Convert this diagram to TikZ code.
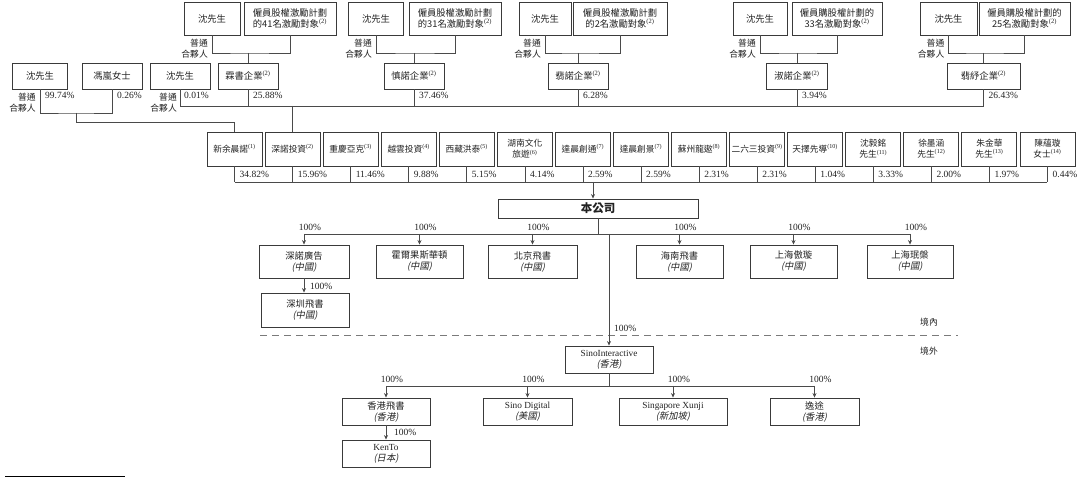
\documentclass[tikz,border=0pt]{standalone}
\usepackage{fontspec}
\setmainfont{Liberation Serif}
\newfontfamily\cjk{Noto Sans CJK TC}
\newfontfamily\cjkit{Noto Sans CJK TC}[FakeSlant=0.2]
\usetikzlibrary{arrows.meta,calc,positioning}
\definecolor{boxc}{HTML}{3A3A3A}
\definecolor{linec}{HTML}{4A4A4A}
\definecolor{txtc}{HTML}{222222}
\definecolor{dashc}{HTML}{7A7A7A}
\newcommand\nt[1]{\textsuperscript{\rmfamily(#1)}}
\newcommand\regn[1]{\\{\cjkit(#1)}}
\tikzset{
  box/.style={draw=boxc,line width=0.9pt,inner sep=1pt,align=center,text=txtc,
    font=\cjk\fontsize{9.3}{11}\selectfont},
  topbox/.style={box,minimum height=33pt},
  entbox/.style={box,minimum height=26pt,minimum width=60pt},
  rowbox/.style={box,minimum height=34pt,minimum width=55pt,font=\cjk\fontsize{8.7}{11}\selectfont},
  subbox/.style={box,minimum height=33pt,minimum width=88pt},
  osbox/.style={box,minimum height=27pt,minimum width=88pt},
  conn/.style={draw=linec,line width=0.6pt},
  arr/.style={conn,-{Stealth[length=4.5pt,width=4pt]}},
  pct/.style={inner sep=0pt,text=txtc,font=\fontsize{9.5}{10}\selectfont},
  gp/.style={inner sep=0pt,align=right,text=txtc,font=\cjk\fontsize{8.8}{11}\selectfont},
  dashline/.style={draw=dashc,line width=1pt,dash pattern=on 7pt off 5pt},
}
\begin{document}
\begin{tikzpicture}[x=1pt,y=-1pt]
  \useasboundingbox (0,0) rectangle (1080,478);
  % ---------- partnerships above ----------
  \node[topbox,minimum width=56pt] (s1) at (212,18.5) {沈先生};
  \node[topbox,minimum width=92pt] (m1) at (290,18.5) {僱員股權激勵計劃\\的41名激勵對象\nt{2}};
  \node[entbox] (e1) at (248,76) {霖書企業\nt{2}};
  \node[topbox,minimum width=55pt] (s2) at (376,18.5) {沈先生};
  \node[topbox,minimum width=92pt] (m2) at (455,18.5) {僱員股權激勵計劃\\的31名激勵對象\nt{2}};
  \node[entbox] (e2) at (414,76) {慎諾企業\nt{2}};
  \node[topbox,minimum width=52pt] (s3) at (545,18.5) {沈先生};
  \node[topbox,minimum width=94pt] (m3) at (620,18.5) {僱員股權激勵計劃\\的2名激勵對象\nt{2}};
  \node[entbox] (e3) at (578,76) {翡諾企業\nt{2}};
  \node[topbox,minimum width=54pt] (s4) at (760,18.5) {沈先生};
  \node[topbox,minimum width=90pt] (m4) at (837,18.5) {僱員購股權計劃的\\33名激勵對象\nt{2}};
  \node[entbox,minimum width=61pt] (e4) at (797,76) {淑諾企業\nt{2}};
  \node[topbox,minimum width=57pt] (s5) at (948.5,18.5) {沈先生};
  \node[topbox,minimum width=91pt] (m5) at (1024.5,18.5) {僱員購股權計劃的\\25名激勵對象\nt{2}};
  \node[entbox,minimum width=73pt] (e5) at (983.5,76) {翡紓企業\nt{2}};
  \foreach \g in {1,...,5} {
    \coordinate (j\g) at (e\g.north |- 0,53);
    \draw[conn] (s\g.south) |- (j\g) -| (m\g.south);
    \draw[conn] (j\g) -- (e\g.north);
    \node[gp,anchor=north east] (gp\g) at ($(s\g.south)+(-4,3)$) {普通\\合夥人};
  }
  \foreach \g/\p in {1/25.88,2/37.46,3/6.28,4/3.94,5/26.43}
    \node[pct,anchor=north west] (ep\g) at ($(e\g.south)+(5,3)$) {\p\%};
  % ---------- direct holders on the left ----------
  \node[entbox,minimum width=55pt] (ls1) at (40,76) {沈先生};
  \node[entbox] (fl) at (112,76) {馮嵐女士};
  \node[entbox] (ls2) at (180,76) {沈先生};
  \node[gp,anchor=north east] (gpl1) at ($(ls1.south)+(-4,3)$) {普通\\合夥人};
  \node[gp,anchor=north east] (gpl2) at ($(ls2.south)+(-3,3)$) {普通\\合夥人};
  \node[pct,anchor=north west] (pl1) at ($(ls1.south)+(5,3)$) {99.74\%};
  \node[pct,anchor=north west] (pl2) at ($(fl.south)+(5,3)$) {0.26\%};
  \node[pct,anchor=north west] (pl3) at ($(ls2.south)+(4,3)$) {0.01\%};
  % ---------- shareholders row ----------
  \foreach \t [count=\i from 0] in {新余晨諾\nt{1},深諾投資\nt{2},重慶亞克\nt{3},越雲投資\nt{4},
      西藏洪泰\nt{5},{湖南文化\\旅遊\nt{6}},達晨創通\nt{7},達晨創景\nt{7},蘇州龍遨\nt{8},
      二六三投資\nt{9},天擇先導\nt{10},{沈毅銘\\先生\nt{11}},{徐墨涵\\先生\nt{12}},
      {朱金華\\先生\nt{13}},{陳蘊璇\\女士\nt{14}}}
    \node[rowbox] (r\i) at ({234.5+58.07*\i},149) {\t};
  \foreach \p [count=\i from 0] in {34.82,15.96,11.46,9.88,5.15,4.14,2.59,2.59,2.31,2.31,1.04,3.33,2.00,1.97,0.44} {
    \draw[conn] (r\i.south) -- ++(0,16);
    \node[pct,anchor=west] (rp\i) at ($(r\i.south)+(5,8)$) {\p\%};
  }
  \draw[conn] ($(r0.south)+(0,16)$) -- ($(r14.south)+(0,16)$);
  \coordinate (bus) at (0,106);
  \draw[conn] (ls2.south) |- (e5.south |- bus);
  \foreach \g in {1,...,5} \draw[conn] (e\g.south) -- (e\g.south |- bus);
  \draw[conn] (r1.north |- bus) -- (r1.north);
  \coordinate (lj) at (76,113);
  \coordinate (lk) at (76,122);
  \draw[conn] (ls1.south) |- (lj) -| (fl.south);
  \draw[conn] (lj) -- (lk) -| (r0.north);
  % ---------- the company and onshore subsidiaries ----------
  \node[box,minimum width=200pt,minimum height=19pt,font=\cjk\bfseries\fontsize{11.5}{12}\selectfont] (co) at (598,208.5) {本公司};
  \coordinate (rowout) at (593,182);
  \draw[arr] (rowout) -- (rowout |- co.north);
  \node[subbox,minimum width=90pt] (a1) at (304,261.5) {深諾廣告\regn{中國}};
  \node[subbox,minimum width=87pt] (a2) at (419.5,261.5) {霍爾果斯華頓\regn{中國}};
  \node[subbox,minimum width=89pt] (a3) at (532.5,261.5) {北京飛書\regn{中國}};
  \node[subbox,minimum width=87pt] (a4) at (679.5,261.5) {海南飛書\regn{中國}};
  \node[subbox,minimum width=87pt] (a5) at (793.5,261.5) {上海傲璇\regn{中國}};
  \node[subbox,minimum width=86pt] (a6) at (910,261.5) {上海珉槃\regn{中國}};
  \node[subbox,minimum height=34pt] (a7) at (305,310) {深圳飛書\regn{中國}};
  \coordinate (bus2) at (0,234);
  \draw[conn] (co.south) -- (co.south |- bus2);
  \draw[conn] (a1.north |- bus2) -- (a6.north |- bus2);
  \foreach \i in {1,...,6} {
    \draw[arr] (a\i.north |- bus2) -- (a\i.north);
    \node[pct,anchor=south] (ap\i) at ($(a\i.north |- bus2)+(6,-3)$) {100\%};
  }
  \draw[arr] (a1.south) -- (a1.south |- a7.north);
  \node[pct,anchor=west] (ap7) at ($(a1.south)+(6,8)$) {100\%};
  % ---------- onshore / offshore ----------
  \coordinate (dl) at (260,336);
  \coordinate (dr) at (958,336);
  \draw[dashline] (dl) -- (dr);
  \node[gp] (dom) at (929,322) {境內};
  \node[gp] (ovs) at (929,351) {境外};
  % ---------- offshore subsidiaries ----------
  \node[osbox] (si) at (609,359.5) {\rmfamily SinoInteractive\regn{香港}};
  \draw[arr] (si.north |- bus2) -- (si.north);
  \node[pct,anchor=west] (sip) at (614,328) {100\%};
  \node[osbox] (b1) at (386,411.5) {香港飛書\regn{香港}};
  \node[osbox,minimum width=89pt] (b2) at (527.5,411.5) {\rmfamily Sino Digital\regn{美國}};
  \node[osbox,minimum width=108pt] (b3) at (673,411.5) {\rmfamily Singapore Xunji\regn{新加坡}};
  \node[osbox,minimum width=89pt] (b4) at (814.5,411.5) {逸途\regn{香港}};
  \node[osbox] (b5) at (386,453.5) {\rmfamily KenTo\regn{日本}};
  \coordinate (bus3) at (0,386);
  \draw[conn] (si.south) -- (si.south |- bus3);
  \draw[conn] (b1.north |- bus3) -- (b4.north |- bus3);
  \foreach \i in {1,...,4} {
    \draw[arr] (b\i.north |- bus3) -- (b\i.north);
    \node[pct,anchor=south] (bp\i) at ($(b\i.north |- bus3)+(6,-3)$) {100\%};
  }
  \draw[arr] (b1.south) -- (b1.south |- b5.north);
  \node[pct,anchor=west] (bp5) at ($(b1.south)+(8,7)$) {100\%};
  % footnote rule
  \draw[line width=0.6pt] (5,476) -- (125,476);
\end{tikzpicture}
\end{document}
